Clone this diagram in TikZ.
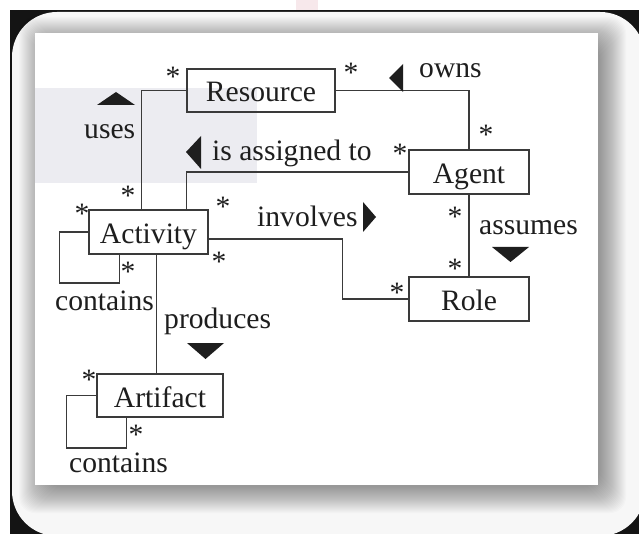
\documentclass[tikz,border=0pt]{standalone}
\usepackage{fontspec}
\setmainfont{Liberation Serif}
\definecolor{ink}{HTML}{1E1E1E}
\definecolor{linec}{HTML}{3A3A3A}
\definecolor{frameback}{HTML}{F7F7F7}
\definecolor{band}{HTML}{ECECF1}
\definecolor{smear}{HTML}{F7E8EB}
\begin{document}
\begin{tikzpicture}[x=1pt,y=-1pt,
  every node/.style={font=\fontsize{29.6pt}{34pt}\selectfont, text=ink},
  box/.style={draw=linec, line width=1.1pt, inner sep=0pt, text height=26pt, text depth=3pt},
  conn/.style={draw=linec, line width=1.1pt},
  lbl/.style={anchor=base west, inner sep=0pt},
  mult/.style={anchor=base, inner sep=0pt, yshift=-14pt},
  dirmark/.style={fill=ink},
]
% page and frame
\clip (0,0) rectangle (639,534);
\fill[white] (0,0) rectangle (639,534);
\fill[smear] (296,0) rectangle (318,10);
\fill[black!92] (10,10) rectangle (639,534);
\fill[frameback, rounded corners=45pt] (12,12) rectangle (645,536);
% soft drop shadow of the card
\foreach \i in {0,...,26}
  \fill[black, opacity=0.016, rounded corners=16pt]
    ({45-\i*1.0},{43-\i*1.0}) rectangle ({600+\i*1.0},{487+\i*1.0});
% card
\fill[white] (35,33) rectangle (598,485);
\fill[band] (35,88) rectangle (257,183);

% classes
\node[box, minimum width=148pt, minimum height=43pt] (res)   at (261,90.5)  {Resource};
\node[box, minimum width=119pt, minimum height=44pt] (act)   at (148.5,232) {Activity};
\node[box, minimum width=120pt, minimum height=44pt] (agent) at (469,172)   {Agent};
\node[box, minimum width=120pt, minimum height=44pt] (role)  at (469,299)   {Role};
\node[box, minimum width=126pt, minimum height=43pt] (art)   at (160,395.5) {Artifact};

% associations
\draw[conn] ([xshift=53pt]act.north west) |- (res.west);
\draw[conn] (res.east) -| (agent.north);
\draw[conn] ([xshift=98pt]act.north west) |- (agent.west);
\draw[conn] ([yshift=-7pt]act.east) -| ([xshift=-66pt]role.west) -- (role.west);
\draw[conn] (agent.south) -- (role.north);
\draw[conn] ([xshift=68pt]act.south west) coordinate (pa) -- (pa |- art.north);
\draw[conn] (act.west) -- ++(-29,0) -- ++(0,51) -| ([xshift=31pt]act.south west);
\draw[conn] (art.west) -- ++(-30,0) -- ++(0,52.5) -| ([xshift=30pt]art.south west);

% reading-direction markers
\fill[dirmark] (116,92) -- (135,105) -- (97,105) -- cycle;
\fill[dirmark] (389,78) -- (403,64) -- (403,92) -- cycle;
\fill[dirmark] (186,152) -- (201,136) -- (201,169) -- cycle;
\fill[dirmark] (376,217) -- (363,202) -- (363,232) -- cycle;
\fill[dirmark] (492,247) -- (529,247) -- (510.5,262) -- cycle;
\fill[dirmark] (187,343) -- (224,343) -- (205.5,359) -- cycle;

% association names
\node[lbl] (lUses)     at (84,139)  {uses};
\node[lbl] (lOwns)     at (419,78)  {owns};
\node[lbl] (lAssigned) at (212,161) {is assigned to};
\node[lbl] (lInvolves) at (257,227) {involves};
\node[lbl] (lAssumes)  at (479,235) {assumes};
\node[lbl] (lProduces) at (164,328) {produces};
\node[lbl] (lContA)    at (55,310)  {contains};
\node[lbl] (lContB)    at (69,472)  {contains};

% multiplicities
\node[mult] (m1)  at (173,73)  {*};
\node[mult] (m2)  at (351,69)  {*};
\node[mult] (m3)  at (486,131) {*};
\node[mult] (m4)  at (400,150) {*};
\node[mult] (m5)  at (128,192) {*};
\node[mult] (m6)  at (223,203) {*};
\node[mult] (m7)  at (82,210)  {*};
\node[mult] (m8)  at (128,267) {*};
\node[mult] (m9)  at (219,258) {*};
\node[mult] (m10) at (455,213) {*};
\node[mult] (m11) at (455,265) {*};
\node[mult] (m12) at (397,288) {*};
\node[mult] (m13) at (89,375)  {*};
\node[mult] (m14) at (136,430) {*};
\end{tikzpicture}
\end{document}
